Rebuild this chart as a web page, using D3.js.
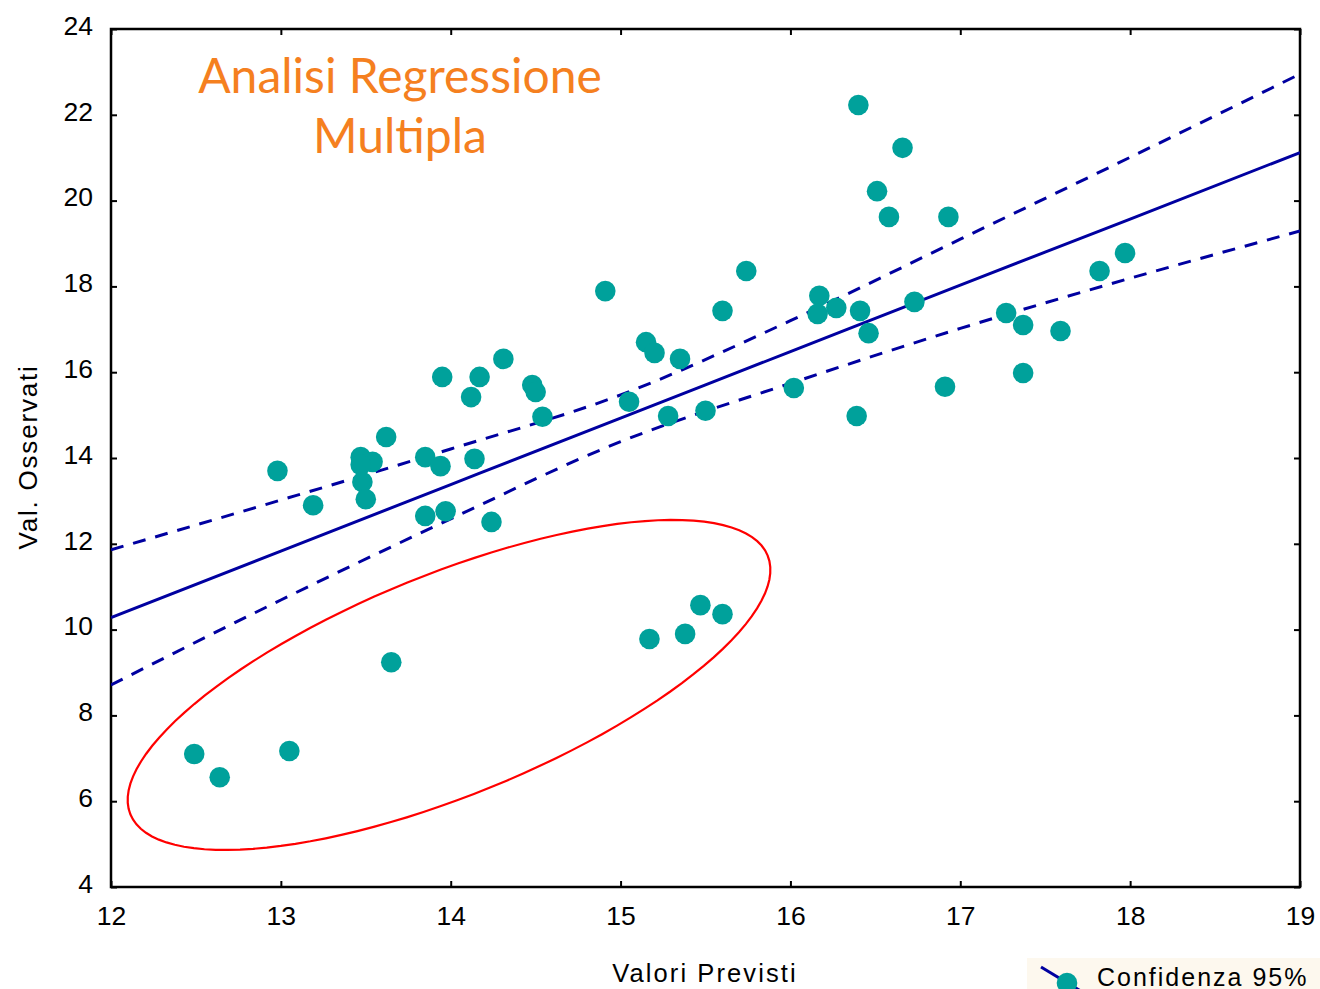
<!DOCTYPE html>
<html>
<head>
<meta charset="utf-8">
<script src="https://cdn.jsdelivr.net/npm/d3@7"></script>
<style>
  html, body { margin: 0; padding: 0; background: #ffffff; }
  svg { display: block; }
</style>
</head>
<body>
<svg id="chart" width="1320" height="989"></svg>
<script>
// Valori previsti (x) e osservati (y) per ciascun caso
const predicted = [
  12.49, 12.64, 13.05, 13.65, 15.17, 15.38, 15.47, 15.60,
  12.98, 13.19, 13.47, 13.54, 13.47, 13.48, 13.50, 13.62,
  13.85, 13.94, 13.85, 13.97, 13.95, 14.12, 14.17, 14.14,
  14.24, 14.31, 14.48, 14.50, 14.54, 14.91, 15.05, 15.15,
  15.20, 15.28, 15.35, 15.50, 15.60, 15.74, 16.02, 16.17,
  16.16, 16.27, 16.40, 16.41, 16.46, 16.39, 16.51, 16.58,
  16.66, 16.73, 16.91, 16.93, 17.27, 17.37, 17.37, 17.59,
  17.82, 17.97
];
const observed = [
  7.10, 6.56, 7.17, 9.24, 9.78, 9.90, 10.57, 10.36,
  13.70, 12.90, 14.02, 13.91, 13.84, 13.44, 13.04, 14.49,
  14.02, 13.81, 12.65, 12.76, 15.89, 15.42, 15.89, 13.98,
  12.51, 16.31, 15.70, 15.54, 14.96, 17.89, 15.31, 16.70,
  16.45, 14.98, 16.31, 15.10, 17.43, 18.36, 15.63, 17.78,
  17.36, 17.50, 22.23, 17.43, 16.91, 14.98, 20.22, 19.62,
  21.23, 17.64, 15.66, 19.62, 17.38, 17.10, 15.98, 16.96,
  18.36, 18.78
];

// Retta di regressione e limiti di confidenza al 95%
const bandX  = [12, 13, 14, 15, 16, 17, 18, 19];
const fitY   = [10.28, 11.83, 13.38, 14.93, 16.48, 18.03, 19.57, 21.12];
const upperY = [11.86, 13.02, 14.21, 15.47, 17.20, 19.10, 21.01, 22.95];
const lowerY = [8.71, 10.69, 12.58, 14.38, 15.74, 17.02, 18.19, 19.29];

const xTicks = [12, 13, 14, 15, 16, 17, 18, 19];
const yTicks = [4, 6, 8, 10, 12, 14, 16, 18, 20, 22, 24];

// Ellisse che evidenzia i casi anomali (centro e semiassi in unità dei dati)
const outlierCentre = [13.99, 8.71];
const outlierMajor  = [1.876, 3.016];
const outlierMinor  = [0.245, -2.387];

const titleLines = ["Analisi Regressione", "Multipla"];
const xLabel = "Valori Previsti";
const yLabel = "Val. Osservati";
const legendLabel = "Confidenza 95%";

const pointColour = "#00a19b";
const lineColour = "#0000a0";

const svg = d3.select("#chart");
const margin = { left: 111, right: 20, top: 29, bottom: 102 };
const W = 1320, H = 989;

const x = d3.scaleLinear().domain([12, 19]).range([margin.left, W - margin.right]);
const y = d3.scaleLinear().domain([4, 24]).range([H - margin.bottom, margin.top]);

svg.append("rect").attr("width", W).attr("height", H).attr("fill", "#ffffff");

svg.append("defs").append("clipPath").attr("id", "plot-clip")
  .append("rect")
  .attr("x", x(12)).attr("y", y(24))
  .attr("width", x(19) - x(12)).attr("height", y(4) - y(24));

// Assi con tacche interne su tutti i lati
const tickFont = "'Liberation Sans', Arial, sans-serif";
const axisBottom = svg.append("g")
  .attr("transform", `translate(0,${y(4)})`)
  .call(d3.axisBottom(x).tickValues(xTicks).tickSize(-6).tickPadding(19).tickFormat(d3.format("d")));
const axisLeft = svg.append("g")
  .attr("transform", `translate(${x(12)},0)`)
  .call(d3.axisLeft(y).tickValues(yTicks).tickSize(-6).tickPadding(18).tickFormat(d3.format("d")));
const axisTop = svg.append("g")
  .attr("transform", `translate(0,${y(24)})`)
  .call(d3.axisTop(x).tickValues(xTicks).tickSize(-6).tickFormat(""));
const axisRight = svg.append("g")
  .attr("transform", `translate(${x(19)},0)`)
  .call(d3.axisRight(y).tickValues(yTicks).tickSize(-6).tickFormat(""));

[axisBottom, axisLeft, axisTop, axisRight].forEach(g => {
  g.select(".domain").remove();
  g.selectAll(".tick line").attr("stroke", "#000").attr("stroke-width", 2);
  g.selectAll(".tick text")
    .attr("fill", "#000")
    .style("font-family", tickFont)
    .style("font-size", "26.5px");
});
axisLeft.selectAll(".tick text").attr("dy", "0.2em");

svg.append("rect")
  .attr("x", x(12)).attr("y", y(24))
  .attr("width", x(19) - x(12)).attr("height", y(4) - y(24))
  .attr("fill", "none").attr("stroke", "#000").attr("stroke-width", 2.5);

const plot = svg.append("g").attr("clip-path", "url(#plot-clip)");

// Linee: regressione (continua) e limiti (tratteggiati)
const lineGen = vals => d3.line()
  .x((d, i) => x(bandX[i]))
  .y(d => y(d))
  .curve(d3.curveMonotoneX)(vals);

plot.append("path").attr("d", lineGen(upperY))
  .attr("fill", "none").attr("stroke", lineColour).attr("stroke-width", 3)
  .attr("stroke-dasharray", "13 10");
plot.append("path").attr("d", lineGen(lowerY))
  .attr("fill", "none").attr("stroke", lineColour).attr("stroke-width", 3)
  .attr("stroke-dasharray", "13 10");
plot.append("path").attr("d", lineGen(fitY))
  .attr("fill", "none").attr("stroke", lineColour).attr("stroke-width", 3);

// Punti
const pts = predicted.map((p, i) => ({ p, o: observed[i] }));
plot.selectAll("circle.pt").data(pts).join("circle")
  .attr("class", "pt")
  .attr("cx", d => x(d.p)).attr("cy", d => y(d.o))
  .attr("r", 10.3)
  .attr("fill", pointColour);

// Ellisse rossa
const ellipsePts = d3.range(0, 361, 3).map(deg => {
  const t = deg * Math.PI / 180;
  return [
    outlierCentre[0] + outlierMajor[0] * Math.cos(t) + outlierMinor[0] * Math.sin(t),
    outlierCentre[1] + outlierMajor[1] * Math.cos(t) + outlierMinor[1] * Math.sin(t)
  ];
});
plot.append("path")
  .attr("d", d3.line().x(d => x(d[0])).y(d => y(d[1])).curve(d3.curveLinearClosed)(ellipsePts))
  .attr("fill", "none").attr("stroke", "#ff0000").attr("stroke-width", 2.2);

// Titolo
const title = svg.append("text")
  .attr("x", 400).attr("y", 93)
  .attr("text-anchor", "middle")
  .attr("fill", "#f5801f")
  .style("font-family", "Lato, 'Open Sans', sans-serif")
  .style("font-size", "48px");
titleLines.forEach((t, i) => {
  title.append("tspan").attr("x", 400).attr("dy", i === 0 ? 0 : 60).text(t);
});

// Etichette degli assi
svg.append("text")
  .attr("x", 705).attr("y", 982)
  .attr("text-anchor", "middle")
  .style("font-family", tickFont)
  .style("font-size", "25.5px")
  .style("letter-spacing", "2.1px")
  .attr("fill", "#000")
  .text(xLabel);

svg.append("text")
  .attr("transform", `translate(37,${457}) rotate(-90)`)
  .attr("text-anchor", "middle")
  .style("font-family", tickFont)
  .style("font-size", "26px")
  .style("letter-spacing", "1.8px")
  .attr("fill", "#000")
  .text(yLabel);

// Legenda
const legend = svg.append("g").attr("transform", "translate(1027,958)");
legend.append("rect").attr("width", 300).attr("height", 40).attr("fill", "#fdf8ee");
legend.append("line")
  .attr("x1", 14).attr("y1", 9).attr("x2", 62).attr("y2", 38)
  .attr("stroke", lineColour).attr("stroke-width", 3);
legend.append("circle").attr("cx", 40).attr("cy", 25).attr("r", 10.3).attr("fill", pointColour);
legend.append("text")
  .attr("x", 70).attr("y", 28)
  .style("font-family", tickFont)
  .style("font-size", "25px")
  .style("letter-spacing", "2px")
  .attr("fill", "#000")
  .text(legendLabel);
</script>
</body>
</html>
